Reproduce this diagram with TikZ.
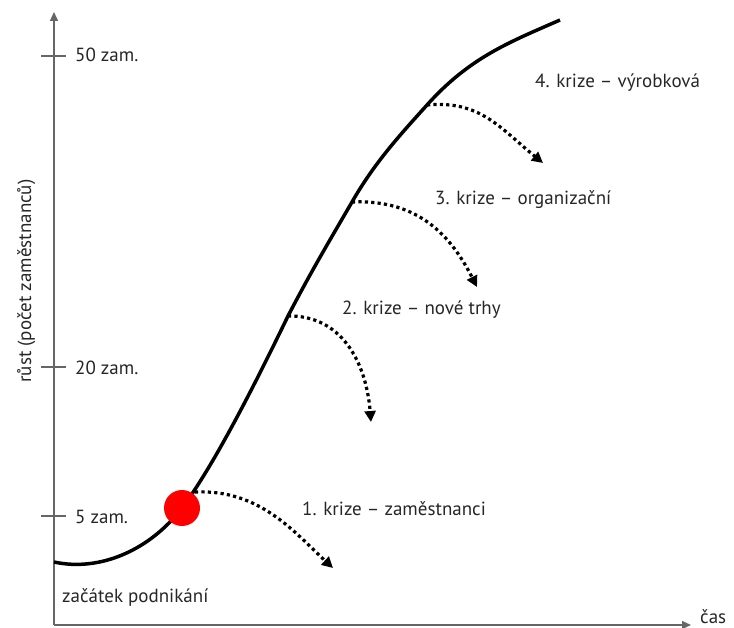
\documentclass[tikz,border=0pt]{standalone}
\usepackage{fontspec}
\setmainfont{PT Sans}
\usetikzlibrary{arrows.meta}
\begin{document}
\begin{tikzpicture}[x=1pt,y=-1pt,
  axis/.style={draw=black!60,line width=1.5pt},
  tick/.style={draw=black!60,line width=1.2pt},
  growth/.style={draw=black,line width=3.5pt},
  crisis/.style={draw=black,line width=3.2pt,dash pattern=on 3.2pt off 3.2pt,
     -{Triangle[length=11pt,width=11pt]}},
  lbl/.style={font=\fontsize{19}{22}\selectfont,text=black!85,inner sep=0pt}
]
\useasboundingbox (0,0) rectangle (734,628);
% axes
\coordinate (O) at (54,625);
\coordinate (Ytop) at (54,12);
\coordinate (Xend) at (691,625);
\draw[axis,-{Triangle[length=9pt,width=8pt]}] (O) -- (Ytop);
\draw[axis,-{Triangle[length=9pt,width=8pt]}] (O) -- (Xend);
% ticks
\coordinate (t50a) at (41,56); \coordinate (t50b) at (66,56);
\coordinate (t20a) at (41,367); \coordinate (t20b) at (66,367);
\coordinate (t5a) at (41,516); \coordinate (t5b) at (66,516);
\draw[tick] (t50a) -- (t50b);
\draw[tick] (t20a) -- (t20b);
\draw[tick] (t5a) -- (t5b);
\node[lbl,anchor=base west] (l50) at (75,62) {50 zam.};
\node[lbl,anchor=base west] (l20) at (75,374) {20 zam.};
\node[lbl,anchor=base west] (l5) at (75,523) {5 zam.};
\node[lbl,rotate=90,anchor=base] (ylab) at (31,281) {růst (počet zaměstnanců)};
\node[lbl,anchor=base west] (cas) at (700,623) {čas};
\node[lbl,anchor=base west] (start) at (62,602) {začátek podnikání};
% growth curve
\coordinate (c0) at (54,562);
\coordinate (c1) at (182,508);
\coordinate (c2) at (288,316);
\coordinate (c3) at (352,202);
\coordinate (c4) at (427,105);
\coordinate (c5) at (560,20);
\draw[growth] (c0) .. controls (100,572) and (150,550) .. (c1)
  .. controls (215,464) and (258,378) .. (c2)
  .. controls (313,268) and (330,240) .. (c3)
  .. controls (375,162) and (400,135) .. (c4)
  .. controls (470,57) and (510,42) .. (c5);
\fill[red] (c1) circle (18);
% crisis arrows
\coordinate (s1) at (195,492); \coordinate (e1) at (333,568);
\coordinate (e2) at (371,422);
\coordinate (e3) at (477,287);
\coordinate (e4) at (543,163);
\draw[crisis] (s1) .. controls (260,489) and (295,533) .. (e1);
\draw[crisis] (c2) .. controls (340,315) and (366,360) .. (e2);
\draw[crisis] (c3) .. controls (420,199) and (452,238) .. (e3);
\draw[crisis] (c4) .. controls (480,100) and (500,128) .. (e4);
\node[lbl,anchor=base west] (k1) at (302,515) {1. krize – zaměstnanci};
\node[lbl,anchor=base west] (k2) at (342,315) {2. krize – nové trhy};
\node[lbl,anchor=base west] (k3) at (435,205) {3. krize – organizační};
\node[lbl,anchor=base west] (k4) at (535,88) {4. krize – výrobková};
\end{tikzpicture}
\end{document}
